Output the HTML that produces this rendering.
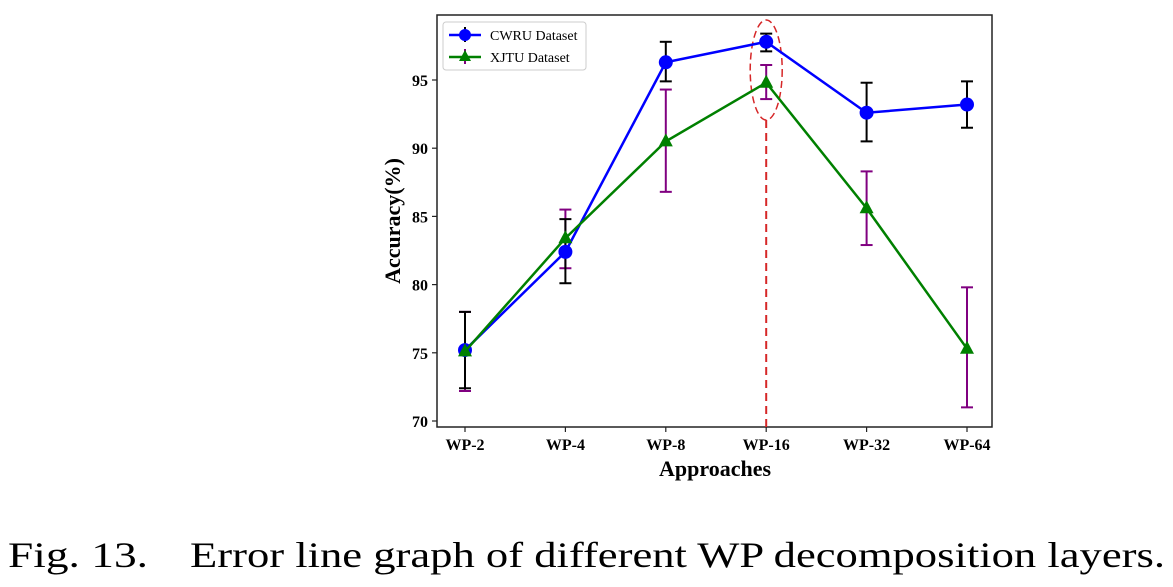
<!DOCTYPE html>
<html><head><meta charset="utf-8"><style>
body{margin:0;background:#fff;width:1173px;height:587px;overflow:hidden}
svg{display:block}
text{font-family:"Liberation Serif",serif}
</style></head><body>
<svg id="chart" width="1173" height="587" xmlns="http://www.w3.org/2000/svg"></svg>
<script>
const categories=["WP-2","WP-4","WP-8","WP-16","WP-32","WP-64"];
const cwruValues=[75.2,82.4,96.3,97.8,92.6,93.2];
const cwruLow=[72.4,80.1,94.9,97.1,90.5,91.5];
const cwruHigh=[78.0,84.8,97.8,98.4,94.8,94.9];
const xjtuValues=[75.1,83.4,90.5,94.8,85.6,75.3];
const xjtuLow=[72.2,81.2,86.8,93.6,82.9,71.0];
const xjtuHigh=[78.0,85.5,94.3,96.1,88.3,79.8];
const yTicks=[70,75,80,85,90,95];
const highlightIndex=3;

const NS="http://www.w3.org/2000/svg";
const svg=document.getElementById('chart');
const L=437,R=992,T=15,B=427;
const x=i=>465+i*(967-465)/(categories.length-1);
const y=v=>421-(v-70)*(421-80)/25;
function el(tag,attrs,parent){const e=document.createElementNS(NS,tag);for(const k in attrs)e.setAttribute(k,attrs[k]);(parent||svg).appendChild(e);return e;}

const frame=el('rect',{x:L,y:T,width:R-L,height:B-T,fill:'none',stroke:'#222','stroke-width':1.5});



yTicks.forEach(t=>{
  const tk=el('line',{x1:L-5,x2:L,y1:y(t),y2:y(t),stroke:'#222','stroke-width':1.2});
  
  
  const lb=el('text',{x:L-9,y:y(t)+6,'text-anchor':'end','font-size':16,'font-weight':'bold'});
  lb.textContent=t;
  
  
});
categories.forEach((c,i)=>{
  const tk=el('line',{x1:x(i),x2:x(i),y1:B,y2:B+5,stroke:'#222','stroke-width':1.2});
  
  
  const lb=el('text',{x:x(i),y:B+23,'text-anchor':'middle','font-size':16,'font-weight':'bold'});
  lb.textContent=c;
  
  
});
const xt=el('text',{x:715,y:476,'text-anchor':'middle','font-size':22,'font-weight':'bold'});
xt.textContent='Approaches';


const yt=el('text',{x:0,y:0,'text-anchor':'middle','font-size':22,'font-weight':'bold',transform:'translate(400,221) rotate(-90)'});
yt.textContent='Accuracy(%)';



const hx=x(highlightIndex);
const vl=el('line',{x1:hx,x2:hx,y1:120,y2:B,stroke:'#d62728','stroke-width':2,'stroke-dasharray':'8,5'});


const ell=el('ellipse',{cx:hx,cy:70,rx:16,ry:50,fill:'none',stroke:'#d62728','stroke-width':1.5,'stroke-dasharray':'7,4'});



function errbars(low,high,color,name){
  low.forEach((lo,i)=>{
    const g=el('g',{stroke:color,'stroke-width':2});
    
    
    el('line',{x1:x(i),x2:x(i),y1:y(lo),y2:y(high[i])},g);
    el('line',{x1:x(i)-6,x2:x(i)+6,y1:y(lo),y2:y(lo)},g);
    el('line',{x1:x(i)-6,x2:x(i)+6,y1:y(high[i]),y2:y(high[i])},g);
  });
}
errbars(xjtuLow,xjtuHigh,'#800080','xjtu-error-bar');
errbars(cwruLow,cwruHigh,'#000','cwru-error-bar');

const cl=el('polyline',{points:cwruValues.map((v,i)=>x(i)+','+y(v)).join(' '),fill:'none',stroke:'#0000ff','stroke-width':2.5});


cwruValues.forEach((v,i)=>{
  const c=el('circle',{cx:x(i),cy:y(v),r:7,fill:'#0000ff'});
  
  
});
const xl=el('polyline',{points:xjtuValues.map((v,i)=>x(i)+','+y(v)).join(' '),fill:'none',stroke:'#008000','stroke-width':2.5});


xjtuValues.forEach((v,i)=>{
  const cx=x(i),cy=y(v);
  const p=el('polygon',{points:`${cx},${cy-8} ${cx-7},${cy+5} ${cx+7},${cy+5}`,fill:'#008000'});
  
  
});

const lg=el('g',{});


el('rect',{x:443,y:22,width:143,height:48,rx:3,fill:'#fff',stroke:'#ccc'},lg);
el('line',{x1:449,x2:481,y1:35,y2:35,stroke:'#0000ff','stroke-width':2.5},lg);
el('line',{x1:465,x2:465,y1:27,y2:42,stroke:'#000','stroke-width':2},lg);
el('circle',{cx:465,cy:35,r:6,fill:'#0000ff'},lg);
const t1=el('text',{x:490,y:40,'font-size':14},lg);t1.textContent='CWRU Dataset';


el('line',{x1:449,x2:481,y1:57,y2:57,stroke:'#008000','stroke-width':2.5},lg);
el('line',{x1:465,x2:465,y1:49,y2:64,stroke:'#800080','stroke-width':2},lg);
el('polygon',{points:'465,50 459,61 471,61',fill:'#008000'},lg);
const t2=el('text',{x:490,y:62,'font-size':14},lg);t2.textContent='XJTU Dataset';



const cap1=el('text',{x:8,y:567,'font-size':36,textLength:140,lengthAdjust:'spacingAndGlyphs'});
cap1.textContent='Fig. 13.';


const cap2=el('text',{x:190,y:567,'font-size':36,textLength:975,lengthAdjust:'spacingAndGlyphs'});
cap2.textContent='Error line graph of different WP decomposition layers.';


</script>
</body></html>
